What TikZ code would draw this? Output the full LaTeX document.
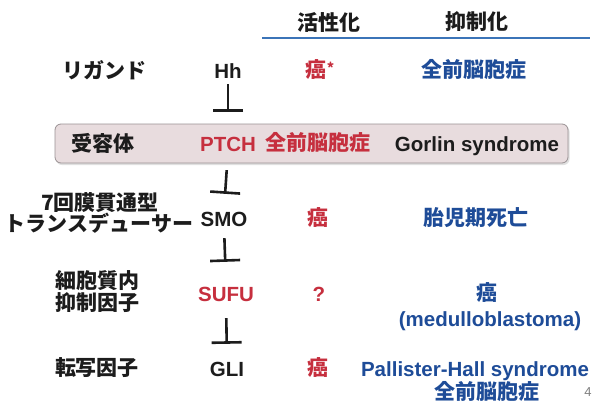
\documentclass[tikz,border=0pt]{standalone}
\usepackage{fontspec}
\setmainfont{Liberation Sans}
\newfontfamily\jp{Noto Sans CJK JP}
\usetikzlibrary{arrows.meta}
\definecolor{cred}{HTML}{C62F3E}
\definecolor{cblue}{HTML}{1E4C98}
\definecolor{cblack}{HTML}{1C1C1C}
\definecolor{cline}{HTML}{3B74B8}
\definecolor{boxfill}{HTML}{E8DCDE}
\definecolor{boxdraw}{HTML}{9A9294}
\tikzset{
  jtext/.style={inner sep=0pt, font=\jp\bfseries\fontsize{21}{23}\selectfont, text=cblack},
  ltext/.style={inner sep=0pt, text height=16pt, text depth=0pt, font=\bfseries\fontsize{20.5}{23}\selectfont, text=cblack},
  red/.style={text=cred},
  blue/.style={text=cblue},
  tee/.style={-{Bar[width=30pt]}, line width=2.6pt, cblack},
}
\begin{document}
\begin{tikzpicture}[x=1pt,y=-1pt]
\useasboundingbox (0,0) rectangle (598,408);
\fill[white] (0,0) rectangle (598,408);
% header
\node[jtext] (hact) at (329,22) {活性化};
\node[jtext] (hinh) at (477,22) {抑制化};
\coordinate (l1) at (262,38);
\coordinate (l2) at (590,38);
\draw[cline, line width=1.8pt] (l1) -- (l2);
% receptor box
\fill[black!12, rounded corners=6pt] (56,125.5) rectangle (569.5,165);
\draw[boxdraw, fill=boxfill, rounded corners=6pt, line width=0.8pt] (55,124) rectangle (568,163);
% row 1
\node[jtext] (lig) at (105,70) {リガンド};
\node[ltext] (hh) at (228,70) {Hh};
\node[jtext, red] (a1) at (320,70) {癌\raisebox{4pt}{\fontsize{14}{14}\selectfont*}};
\node[jtext, blue] (i1) at (474,70) {全前脳胞症};
% row 2
\node[jtext] (rec) at (103,143) {受容体};
\node[ltext, red] (ptch) at (228,143) {PTCH};
\node[jtext, red] (a2) at (318,143) {全前脳胞症};
\node[ltext] (i2) at (477,143) {Gorlin syndrome};
% row 3
\node[jtext] (tm1) at (100,203) {7回膜貫通型};
\node[jtext] (tm2) at (99,223) {トランスデューサー};
\node[ltext] (smo) at (224,218) {SMO};
\node[jtext, red] (a3) at (318,218) {癌};
\node[jtext, blue] (i3) at (476,218) {胎児期死亡};
% row 4
\node[jtext] (cy1) at (98,281) {細胞質内};
\node[jtext] (cy2) at (98,303) {抑制因子};
\node[ltext, red] (sufu) at (226,293) {SUFU};
\node[ltext, red] (a4) at (319,293) {?};
\node[jtext, blue] (i4) at (487,293) {癌};
\node[ltext, blue] (i4b) at (490,318) {(medulloblastoma)};
% row 5
\node[jtext] (tf) at (97,368) {転写因子};
\node[ltext] (gli) at (227,368) {GLI};
\node[jtext, red] (a5) at (318,368) {癌};
\node[ltext, blue] (i5) at (475,368) {Pallister-Hall syndrome};
\node[jtext, blue] (i5b) at (487,392) {全前脳胞症};
\node[inner sep=0pt, font=\fontsize{13}{13}\selectfont, text=gray] (pg) at (588,392) {4};
% tee connectors
\draw[tee, shorten <=6pt, shorten >=23pt] (hh.south) -- (ptch.north);
\draw[tee, shorten <=19pt, shorten >=16pt] (ptch.south) -- (smo.north);
\draw[tee, shorten <=12pt, shorten >=23pt] (smo.south) -- (sufu.north);
\draw[tee, shorten <=17pt, shorten >=16pt] (sufu.south) -- (gli.north);
\end{tikzpicture}
\end{document}
